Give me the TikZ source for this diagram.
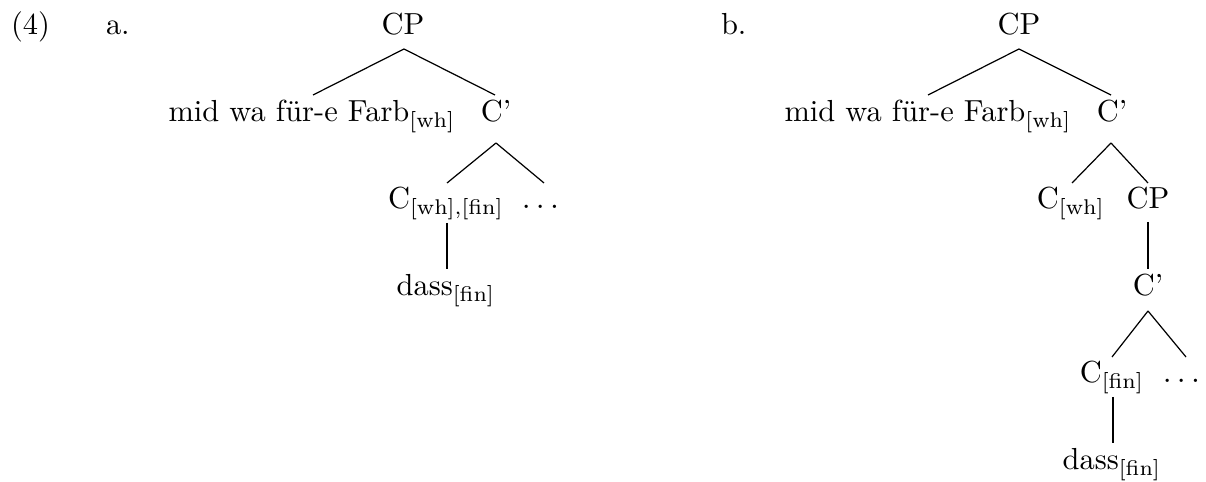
\documentclass[tikz,border=0pt]{standalone}
\usepackage{amsmath}
\tikzset{
  lbl/.style={anchor=base, inner sep=0pt, outer sep=0pt, font=\fontsize{10.5}{13}\selectfont},
  br/.style={line width=0.42pt, black}
}
\begin{document}
\begin{tikzpicture}[x=0.3448pt, y=-0.3448pt]
\useasboundingbox (0,0) rectangle (1206,482);
% ---------- (4) a. ----------
\node[lbl, anchor=base west] (num) at (11,35) {(4)};
\node[lbl, anchor=base west] (la) at (106,35) {a.};
\node[lbl] (CPa) at (403,35) {CP};
\node[lbl] (mida) at (312,122) {mid wa für-e Farb$_{\text{[wh]}}$};
\node[lbl] (Cba) at (496,122) {C'};
\node[lbl] (Cwfa) at (446,209) {C$_{\text{[wh],[fin]}}$};
\node[lbl] (dotsa) at (543,209) {$\dots$};
\node[lbl] (dassa) at (446,296) {dass$_{\text{[fin]}}$};
\draw[br] ([shift={(1,14)}]CPa.base) -- ([shift={(1,-27)}]mida.base);
\draw[br] ([shift={(1,14)}]CPa.base) -- ([shift={(-1,-27)}]Cba.base);
\draw[br] ([shift={(0,21)}]Cba.base) -- ([shift={(1,-26)}]Cwfa.base);
\draw[br] ([shift={(0,21)}]Cba.base) -- ([shift={(1,-26)}]dotsa.base);
\draw[br] ([shift={(1,14)}]Cwfa.base) -- ([shift={(1,-27)}]dassa.base);
% ---------- b. ----------
\node[lbl, anchor=base west] (lb) at (721,35) {b.};
\node[lbl] (CPb) at (1019,35) {CP};
\node[lbl] (midb) at (928,122) {mid wa für-e Farb$_{\text{[wh]}}$};
\node[lbl] (Cbb) at (1112,122) {C'};
\node[lbl] (Cwb) at (1071,209) {C$_{\text{[wh]}}$};
\node[lbl] (CPib) at (1148,209) {CP};
\node[lbl] (Cbib) at (1148,296) {C'};
\node[lbl] (Cfb) at (1112,383) {C$_{\text{[fin]}}$};
\node[lbl] (dotsb) at (1184,383) {$\dots$};
\node[lbl] (dassb) at (1112,470) {dass$_{\text{[fin]}}$};
\draw[br] ([shift={(0,14)}]CPb.base) -- ([shift={(0,-27)}]midb.base);
\draw[br] ([shift={(0,14)}]CPb.base) -- ([shift={(-1,-27)}]Cbb.base);
\draw[br] ([shift={(-1,21)}]Cbb.base) -- ([shift={(1,-26)}]Cwb.base);
\draw[br] ([shift={(-1,21)}]Cbb.base) -- ([shift={(0,-26)}]CPib.base);
\draw[br] ([shift={(0,13)}]CPib.base) -- ([shift={(0,-27)}]Cbib.base);
\draw[br] ([shift={(0,15)}]Cbib.base) -- ([shift={(0,-26)}]Cfb.base);
\draw[br] ([shift={(0,15)}]Cbib.base) -- ([shift={(2,-26)}]dotsb.base);
\draw[br] ([shift={(1,14)}]Cfb.base) -- ([shift={(1,-27)}]dassb.base);
\end{tikzpicture}
\end{document}
